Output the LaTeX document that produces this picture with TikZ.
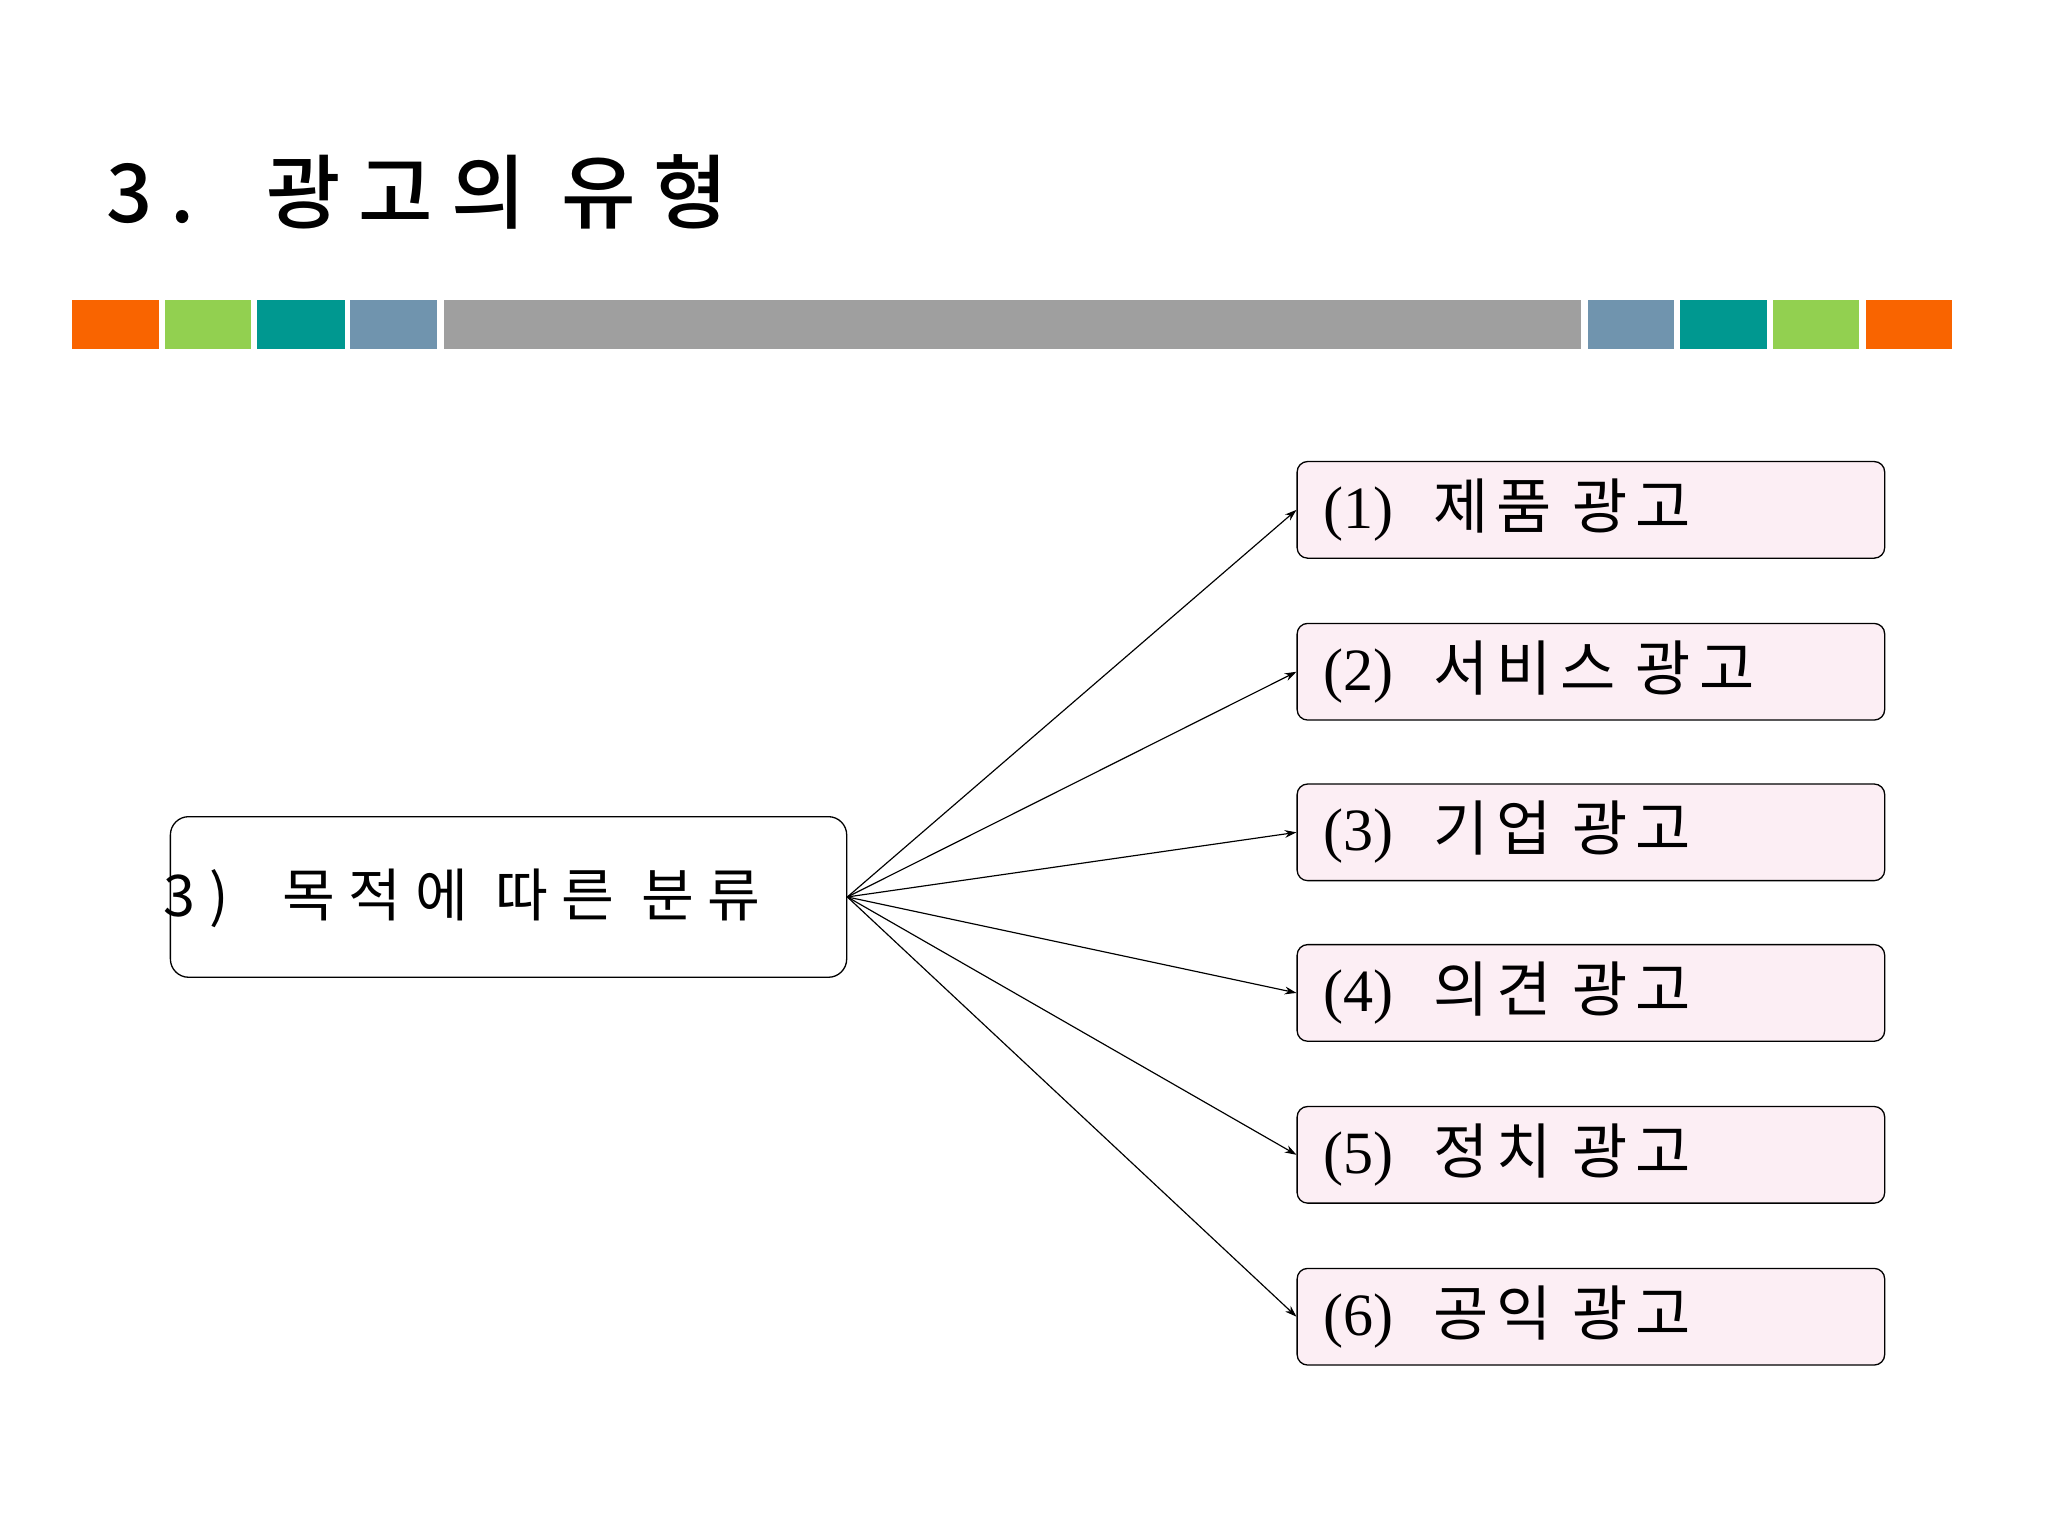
\documentclass[tikz,border=0pt]{standalone}
\usepackage{fontspec}
\setmainfont{Liberation Serif}
\newfontfamily\kr{Noto Sans CJK KR}
\newfontfamily\krt[LetterSpace=22]{Noto Sans CJK KR Medium}
\newfontfamily\krw[LetterSpace=24]{Noto Sans CJK KR}
\newfontfamily\krs[LetterSpace=14]{Noto Sans CJK KR}
\usetikzlibrary{arrows.meta}
\definecolor{cOr}{HTML}{F96400}
\definecolor{cGr}{HTML}{92D050}
\definecolor{cTe}{HTML}{009890}
\definecolor{cSt}{HTML}{7094AE}
\definecolor{cPk}{HTML}{FCEEF4}
\begin{document}
\begin{tikzpicture}[x=1pt,y=-1pt,
  item/.style={draw,fill=cPk,rounded corners=8pt,minimum width=432pt,minimum height=74pt,anchor=north west,text width=410pt,inner xsep=20pt,align=left,font=\fontsize{46}{50}\selectfont,line width=1pt},
  arr/.style={-{Stealth[length=9pt,width=6pt]},line width=0.9pt}]
\useasboundingbox[fill=white] (0,0) rectangle (1568.6,1176.4);
\node[anchor=west,font=\krt\fontsize{62}{66}\selectfont] (title) at (78,147) {3.\ \ 광고의\ 유형};
\foreach \a/\b/\c in {55/122/cOr,126/192/cGr,197/264/cTe,268/335/cSt,340/1211/gray!75,1216/1282/cSt,1287/1353/cTe,1358/1424/cGr,1429/1495/cOr}
  \fill[\c] (\a,230) rectangle (\b,267);
\node[draw,rounded corners=14pt,line width=1pt,minimum width=518pt,minimum height=123pt,anchor=north west] (src) at (130,625) {};
\node[anchor=west,font=\krw\fontsize{44}{48}\selectfont] (srct) at (122,688) {3)\ \ 목적에\ 따른\ 분류};
\node[item] (b1) at (993,353) {(1)\ \ {\krs 제품 광고}};
\node[item] (b2) at (993,477) {(2)\ \ {\krs 서비스 광고}};
\node[item] (b3) at (993,600) {(3)\ \ {\krs 기업 광고}};
\node[item] (b4) at (993,723) {(4)\ \ {\krs 의견 광고}};
\node[item] (b5) at (993,847) {(5)\ \ {\krs 정치 광고}};
\node[item] (b6) at (993,971) {(6)\ \ {\krs 공익 광고}};
\foreach \i in {1,...,6} \draw[arr] (src.east) -- (b\i.west);
\end{tikzpicture}
\end{document}
